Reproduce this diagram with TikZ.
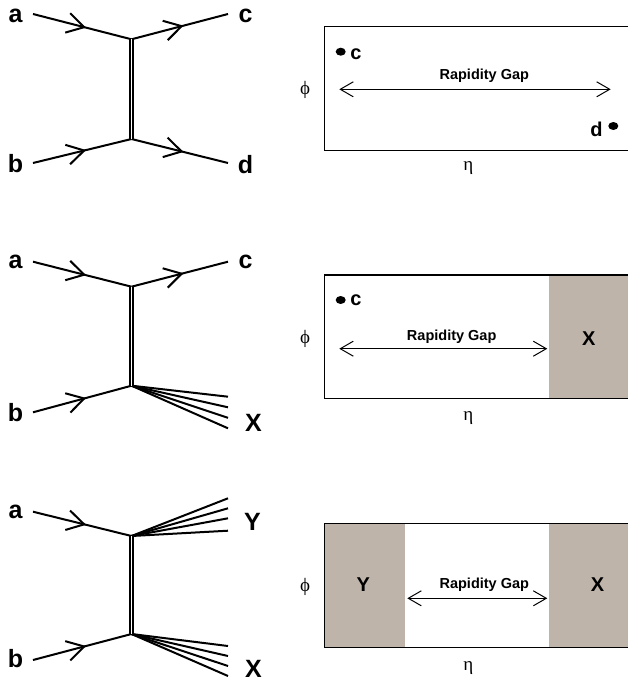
\documentclass[tikz,border=0pt]{standalone}
\usepackage{fontspec}
\setmainfont{Liberation Sans}
\newfontfamily\greekfont{Liberation Serif}
\usetikzlibrary{arrows.meta,decorations.markings}
\definecolor{gapfill}{RGB}{190,180,170}
\begin{document}
\begin{tikzpicture}[x=1pt,y=-1pt,
  leg/.style={line width=2pt},
  fermion/.style={line width=2pt, postaction={decorate},
    decoration={markings, mark=at position 0.52 with
      {\draw[line width=2pt, line join=miter] (-17pt,10pt) -- (0pt,0pt) -- (-17pt,-10pt);}}},
  pomeron/.style={line width=1.4pt, double, double distance=1.5pt},
  lbl/.style={font=\fontsize{25}{25}\selectfont\bfseries, anchor=base, inner sep=0pt},
  blbl/.style={font=\fontsize{20}{20}\selectfont\bfseries, anchor=base, inner sep=0pt},
  gaptxt/.style={font=\fontsize{14.5}{14.5}\selectfont\bfseries, anchor=base, inner sep=0pt},
  axis/.style={font=\fontsize{19}{19}\selectfont\greekfont, inner sep=0pt},
  frame/.style={line width=1.5pt},
  gap/.style={line width=1pt, {Straight Barb[length=13pt,width=15pt]}-{Straight Barb[length=13pt,width=15pt]}},
  dot/.style={fill=black}
]
\useasboundingbox (0,0) rectangle (628,683);
\clip (0,0) rectangle (628,683);

% ---------- elastic scattering: a b -> c d ----------
\coordinate (v1t) at (131.5,39.3);
\coordinate (v1b) at (131.5,139);
\coordinate (a1) at (33,14);
\coordinate (c1) at (228,14);
\coordinate (b1) at (33,163);
\coordinate (d1) at (228,163);
\draw[fermion] (a1) -- (v1t);
\draw[fermion] (v1t) -- (c1);
\draw[fermion] (b1) -- (v1b);
\draw[fermion] (v1b) -- (d1);
\draw[pomeron] (v1t) -- (v1b);
\node[lbl] (la1) at (15.5,22) {a};
\node[lbl] (lc1) at (245.5,22) {c};
\node[lbl] (lb1) at (15.5,172) {b};
\node[lbl] (ld1) at (245.5,173) {d};

% eta-phi plane
\draw[frame] (324.3,26.7) rectangle (650,150.7);
\fill[dot] (340.7,51.7) ellipse [x radius=5, y radius=4];
\node[blbl] (pc1) at (356,59.3) {c};
\fill[dot] (613.3,126) ellipse [x radius=5, y radius=4];
\node[blbl] (pd1) at (596.5,136.3) {d};
\node[gaptxt] (g1) at (484.3,79.3) {Rapidity Gap};
\coordinate (gl1) at (339.3,89.3);
\coordinate (gr1) at (610.7,89.3);
\draw[gap] (gl1) -- (gr1);
\node[axis] (phi1) at (305,90) {ϕ};
\node[axis] (eta1) at (468.3,168.3) {η};

% ---------- single diffraction: a b -> c X ----------
\coordinate (v2t) at (131.5,286.7);
\coordinate (v2b) at (131.5,385.7);
\coordinate (a2) at (33,261.7);
\coordinate (c2) at (228,261.7);
\coordinate (b2) at (33,412.3);
\draw[fermion] (a2) -- (v2t);
\draw[fermion] (v2t) -- (c2);
\draw[fermion] (b2) -- (v2b);
\foreach \y [count=\i] in {396.7,407.3,417.8,428.3}
  { \coordinate (x2\i) at (228,\y); \draw[leg] (v2b) -- (x2\i); }
\draw[pomeron] (v2t) -- (v2b);
\node[lbl] (la2) at (15.5,268.5) {a};
\node[lbl] (lc2) at (245.5,268.5) {c};
\node[lbl] (lb2) at (15.5,421) {b};
\node[lbl] (lx2) at (253.5,431) {X};

\fill[gapfill] (549.3,275) rectangle (650,398.3);
\draw[frame] (324.3,275) rectangle (650,398.3);
\fill[dot] (340.7,300) ellipse [x radius=5, y radius=4];
\node[blbl] (pc2) at (356,305) {c};
\node[gaptxt] (g2) at (451.7,340.7) {Rapidity Gap};
\coordinate (gl2) at (339.3,348.7);
\coordinate (gr2) at (547.3,348.7);
\draw[gap] (gl2) -- (gr2);
\node[blbl] (px2) at (588.8,345) {X};
\node[axis] (phi2) at (305,339.3) {ϕ};
\node[axis] (eta2) at (468.3,418.3) {η};

% ---------- double diffraction: a b -> Y X ----------
\coordinate (v3t) at (131.5,536);
\coordinate (v3b) at (131.5,634);
\coordinate (a3) at (33,511.7);
\coordinate (b3) at (33,660);
\draw[fermion] (a3) -- (v3t);
\draw[fermion] (b3) -- (v3b);
\foreach \y [count=\i] in {498.3,508.3,518.3,530.7}
  { \coordinate (y3\i) at (228,\y); \draw[leg] (v3t) -- (y3\i); }
\foreach \y [count=\i] in {646,656,666,676}
  { \coordinate (x3\i) at (228,\y); \draw[leg] (v3b) -- (x3\i); }
\draw[pomeron] (v3t) -- (v3b);
\node[lbl] (la3) at (15.5,518) {a};
\node[lbl] (ly3) at (252.5,530) {Y};
\node[lbl] (lb3) at (15.5,667) {b};
\node[lbl] (lx3) at (253.5,677) {X};

\fill[gapfill] (324.3,523.3) rectangle (405,647.3);
\fill[gapfill] (549.3,523.3) rectangle (650,647.3);
\draw[frame] (324.3,523.3) rectangle (650,647.3);
\node[blbl] (py3) at (363.3,591.7) {Y};
\node[gaptxt] (g3) at (484.3,588.3) {Rapidity Gap};
\coordinate (gl3) at (407.3,598.3);
\coordinate (gr3) at (547.3,598.3);
\draw[gap] (gl3) -- (gr3);
\node[blbl] (px3) at (597.5,591.7) {X};
\node[axis] (phi3) at (305,587.3) {ϕ};
\node[axis] (eta3) at (468.3,668.3) {η};
\end{tikzpicture}
\end{document}
